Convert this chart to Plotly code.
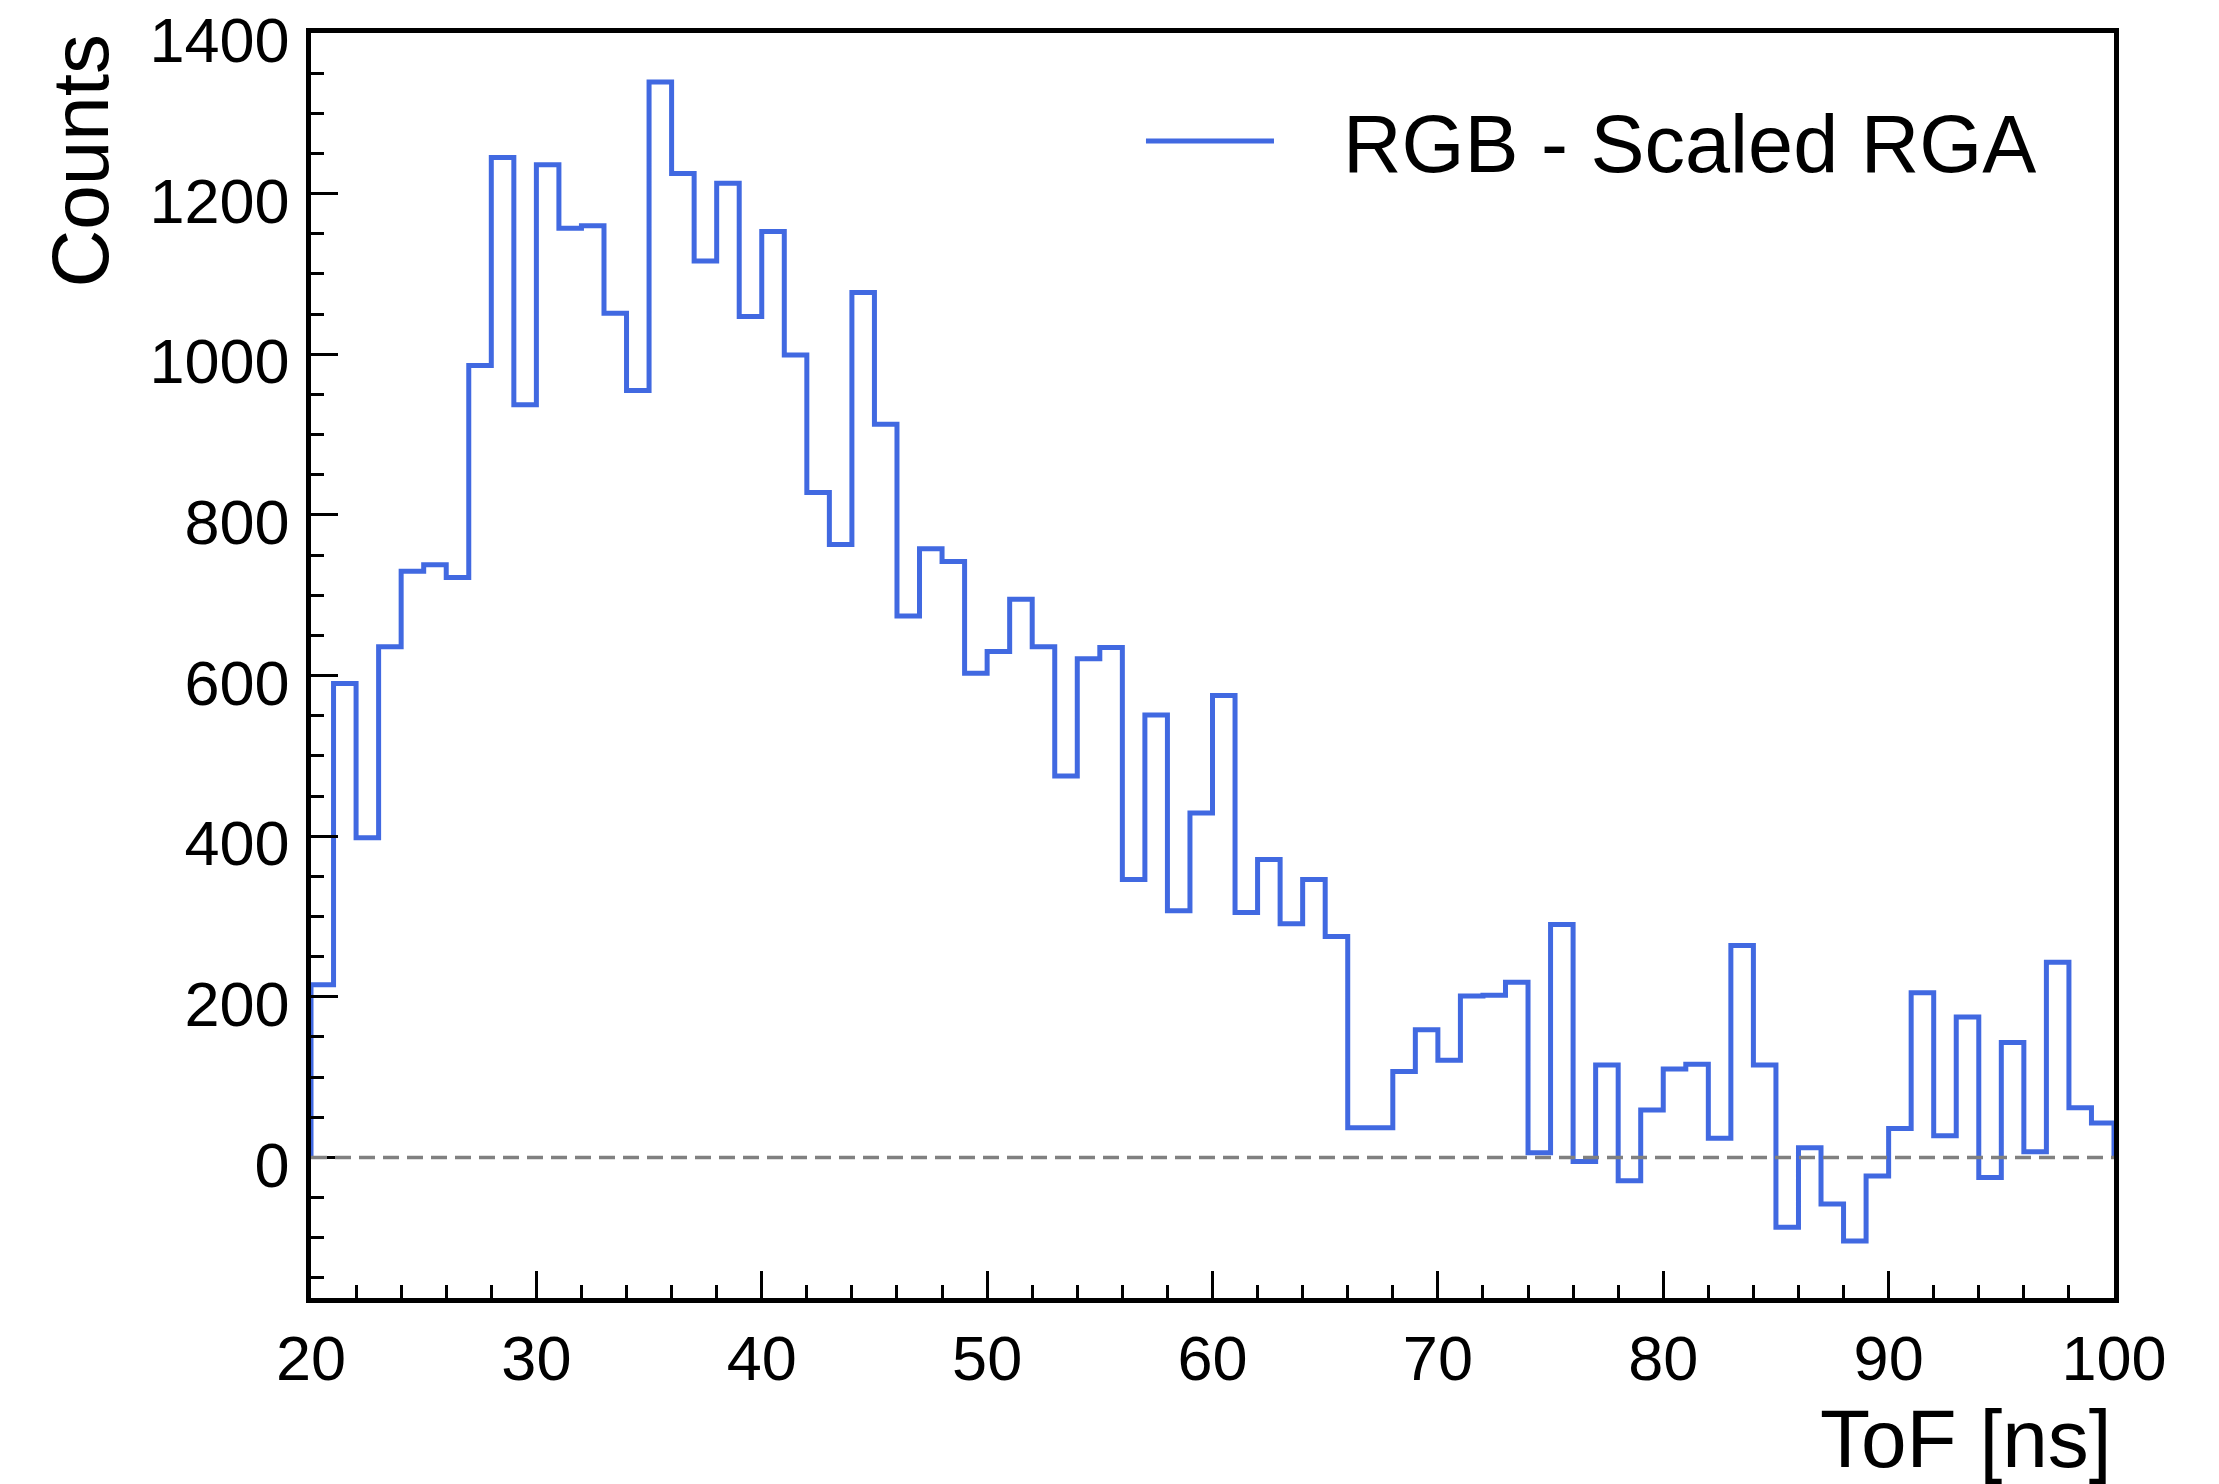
import plotly.graph_objects as go

# Histogram: bin low edges (1 ns bins from 20 to 100 ns) and counts
bin_low_edges = list(range(20, 100))
counts = [
    215, 590, 398, 636, 730, 738, 722, 986, 1245, 937,
    1236, 1157, 1160, 1051, 955, 1339, 1225, 1116, 1213, 1047,
    1153, 999, 828, 763, 1077, 913, 674, 758, 742, 603,
    630, 695, 636, 475, 621, 635, 346, 551, 307, 429,
    575, 305, 371, 291, 346, 275, 37, 37, 107, 159,
    121, 201, 202, 218, 6, 290, -5, 115, -29, 59,
    110, 116, 24, 264, 115, -87, 12, -58, -104, -23,
    36, 205, 27, 175, -25, 143, 7, 243, 62, 43,
]
bin_width = 1
series_name = "RGB - Scaled RGA"
x_title = "ToF [ns]"
y_title = "Counts"
x_ticks = [20, 30, 40, 50, 60, 70, 80, 90, 100]
y_ticks = [0, 200, 400, 600, 800, 1000, 1200, 1400]

# step outline (ROOT-style histogram starting and ending at zero)
last_edge = bin_low_edges[-1] + bin_width
xs = [bin_low_edges[0]] + bin_low_edges + [last_edge, last_edge]
ys = [0] + counts + [counts[-1], 0]

BLUE = "#4169E1"
FONT = "Liberation Sans"

fig = go.Figure()
fig.add_trace(go.Scatter(
    x=xs, y=ys, mode="lines", line=dict(color=BLUE, width=5, shape="hv"),
    name=series_name, showlegend=False, hoverinfo="skip",
))

W, H = 2219, 1484
L, R, T, B = 311, 105, 33, 186

fig.update_layout(
    width=W, height=H,
    margin=dict(l=L, r=R, t=T, b=B, autoexpand=False),
    paper_bgcolor="white", plot_bgcolor="white",
    font=dict(family=FONT, color="black", size=63),
    showlegend=False,
)

fig.update_xaxes(
    range=[20, 100], tickvals=x_ticks, ticktext=[str(v) for v in x_ticks],
    ticks="inside", ticklen=27, tickwidth=3, tickcolor="black",
    minor=dict(dtick=2, ticks="inside", ticklen=13, tickwidth=2.5, tickcolor="black", showgrid=False),
    showline=True, linecolor="black", linewidth=4.5, mirror=True,
    showgrid=False, zeroline=False,
    tickfont=dict(family=FONT, size=63, color="black"),
    ticklabelstandoff=2, ticklabeloverflow="allow",
)
fig.update_yaxes(
    range=[-175, 1400], tickvals=y_ticks, ticktext=[str(v) for v in y_ticks],
    ticks="inside", ticklen=27, tickwidth=3, tickcolor="black",
    minor=dict(dtick=50, ticks="inside", ticklen=13, tickwidth=2.5, tickcolor="black", showgrid=False),
    showline=True, linecolor="black", linewidth=4.5, mirror=True,
    showgrid=False, zeroline=False,
    tickfont=dict(family=FONT, size=63, color="black"),
    ticklabelstandoff=4, ticklabelshift=7, ticklabeloverflow="allow",
)

# dashed zero line
fig.add_shape(type="line", xref="x domain", yref="y", x0=0, x1=1, y0=0, y1=0,
              line=dict(color="#808080", width=3.5, dash="16px,8px"), layer="above")

# axis titles (ROOT/mplhep style: x at right end, y at top)
fig.add_annotation(text=x_title, xref="paper", yref="paper", x=1, y=0,
                   xanchor="right", yanchor="top", yshift=-93, showarrow=False,
                   font=dict(family=FONT, size=82, color="black"))
fig.add_annotation(text=y_title, xref="paper", yref="paper", x=0, y=1,
                   xanchor="center", yanchor="top", xshift=-231, textangle=-90, showarrow=False,
                   font=dict(family=FONT, size=80, color="black"))

# legend (drawn manually to match the long line sample)
fig.add_shape(type="line", xref="paper", yref="paper", x0=0.4631, x1=0.5341, y0=0.9146, y1=0.9146,
              line=dict(color=BLUE, width=5))
fig.add_annotation(text=series_name, xref="paper", yref="paper", x=0.5713, y=0.9123,
                   xanchor="left", yanchor="middle", showarrow=False,
                   font=dict(family=FONT, size=81, color="black"))

fig.write_html("out.html", config={"displayModeBar": False},
               post_script="document.body.style.margin='0';document.body.style.overflow='hidden';")
